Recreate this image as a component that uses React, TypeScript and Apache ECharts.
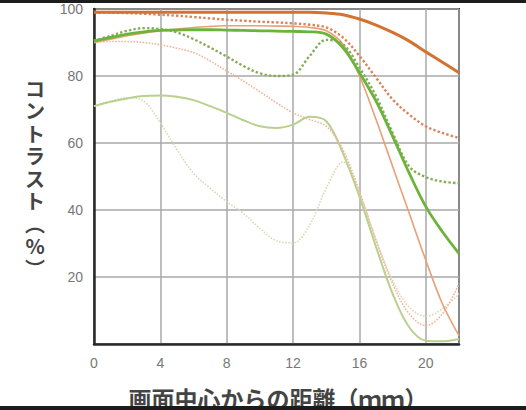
import React, { useEffect, useRef } from "react";
import * as echarts from "echarts";

// distance from image centre (mm)
const distances = [0, 1, 2, 3, 4, 5, 6, 7, 8, 9, 10, 11, 12, 13, 14, 15, 16, 17, 18, 19, 20, 21, 22];

// contrast (%) for each curve
const orangeSolidA = [99, 99, 99, 99, 99, 99, 99, 99, 99, 99, 99, 99, 99, 99, 98.8, 98.3, 97, 95.2, 93, 90.4, 87.2, 84.1, 81];
const orangeDottedA = [99, 98.9, 98.8, 98.6, 98.3, 98, 97.6, 97.2, 96.8, 96.5, 96.2, 96, 95.7, 95.3, 94.5, 91.5, 86, 79.5, 73, 68.5, 65, 63, 61.5];
const orangeSolidB = [90, 91, 92, 92.8, 93.5, 94, 94.5, 94.8, 95, 95, 95, 94.9, 94.8, 94.5, 93.5, 89.5, 80, 67, 53, 39, 25, 12, 2.5];
const greenSolidA = [90.5, 91.5, 92.5, 93.2, 93.6, 93.7, 93.8, 93.8, 93.7, 93.6, 93.5, 93.4, 93.3, 93.2, 92.5, 88.5, 81, 72.5, 62, 51, 41, 33.5, 27];
const greenDottedA = [90.5, 92, 93.5, 94.3, 94, 93, 91, 88.5, 85.8, 83, 80.8, 80, 80.4, 86, 90.8, 89.5, 82.5, 74, 63, 53, 49.8, 48.5, 48];
const pinkDotted = [90, 90.3, 90.3, 90, 89.3, 88.3, 87, 84.5, 81.5, 78.5, 75.3, 72, 69, 67, 65, 58, 45.5, 31, 18, 9, 5.5, 9, 18];
const greenSolidB = [71, 72.3, 73.3, 74, 74.2, 73.8, 72.8, 71, 69, 66.8, 65, 64.5, 65.5, 67.8, 66.5, 57, 44, 29, 15, 5, 1, 0.8, 1.5];
const paleDotted = [71, 72.5, 73.5, 72.5, 66, 58, 51, 46.5, 42.5, 39, 34.5, 30.8, 30.2, 35.5, 46.5, 54.3, 45, 31, 19, 11, 8.3, 10.5, 15];

const xTicks = [0, 4, 8, 12, 16, 20];
const yTicks = [20, 40, 60, 80, 100];

const xTitle = "画面中心からの距離（ｍｍ）";
const yTitleChars = ["コ", "ン", "ト", "ラ", "ス", "ト", "︵", "%", "︶"];

const pair = (vals: number[]) => distances.map((d, i) => [d, vals[i]]);

export default function App() {
  const ref = useRef<HTMLDivElement>(null);
  useEffect(() => {
    if (!ref.current) return;
    const chart = echarts.init(ref.current, null, { renderer: "svg" });
    const mk = (name: string, vals: number[], color: string, width: number, dotted: boolean, z: number) => ({
      name,
      type: "line",
      data: pair(vals),
      smooth: 0.35,
      showSymbol: false,
      symbol: "none",
      z,
      lineStyle: { color, width, type: dotted ? [width, width * 0.9] : "solid" },
    });
    chart.setOption({
      animation: false,
      backgroundColor: "#ffffff",
      grid: {
        left: 94,
        right: 67,
        top: 9,
        bottom: 66,
        show: true,
        borderColor: "#2a2a2a",
        borderWidth: 2,
        backgroundColor: "transparent",
      },
      xAxis: {
        type: "value",
        min: 0,
        max: 22,
        interval: 4,
        axisLine: { show: true, lineStyle: { color: "#2a2a2a", width: 2.5 } },
        axisTick: { show: false },
        axisLabel: {
          margin: 12,
          color: "#777",
          fontSize: 14,
          fontFamily: "Liberation Sans, Arial, sans-serif",
          formatter: (v: number) => (xTicks.includes(v) ? String(v) : ""),
        },
        splitLine: { show: true, lineStyle: { color: "#a8a8a8", width: 1.5 } },
      },
      yAxis: {
        type: "value",
        min: 0,
        max: 100,
        interval: 20,
        axisLine: { show: true, lineStyle: { color: "#2a2a2a", width: 2.5 } },
        axisTick: { show: false },
        axisLabel: {
          margin: 11,
          color: "#777",
          fontSize: 14,
          fontFamily: "Liberation Sans, Arial, sans-serif",
          formatter: (v: number) => (yTicks.includes(v) ? String(v) : ""),
        },
        splitLine: { show: true, lineStyle: { color: "#a8a8a8", width: 1.5 } },
      },
      graphic: [
        {
          type: "text",
          x: 278,
          y: 386,
          style: {
            text: xTitle,
            fill: "#444",
            fontSize: 23,
            fontWeight: "bold",
            fontFamily: "Noto Sans CJK JP",
            align: "center",
            verticalAlign: "top",
          },
          z: 50,
        },
        {
          type: "text",
          x: 35,
          y: 77,
          style: {
            text: yTitleChars.join("\n"),
            fill: "#444",
            fontSize: 20,
            fontWeight: "bold",
            lineHeight: 22.5,
            fontFamily: "Noto Sans CJK JP",
            align: "center",
            verticalAlign: "top",
          },
          z: 50,
        },
        { type: "rect", shape: { x: 0, y: 0, width: 526, height: 3 }, style: { fill: "#1c1c1c" }, z: 100 },
        { type: "rect", shape: { x: 0, y: 406, width: 526, height: 4 }, style: { fill: "#1c1c1c" }, z: 100 },
      ],
      series: [
        mk("pale", paleDotted, "#dcd9b4", 1.6, true, 2),
        mk("greenB", greenSolidB, "#b9d08e", 2, false, 3),
        mk("pink", pinkDotted, "#f0b59a", 1.6, true, 4),
        mk("orangeB", orangeSolidB, "#e9a074", 1.6, false, 5),
        mk("greenDot", greenDottedA, "#86ad55", 2.4, true, 6),
        mk("greenA", greenSolidA, "#6cb33c", 2.8, false, 7),
        mk("orangeDot", orangeDottedA, "#d9835a", 2.4, true, 8),
        mk("orangeA", orangeSolidA, "#d4722f", 3, false, 9),
      ],
    });
    return () => chart.dispose();
  }, []);
  return (
    <div
      ref={ref}
      style={{ position: "fixed", left: 0, top: 0, width: 526, height: 410, background: "#fff" }}
    />
  );
}
